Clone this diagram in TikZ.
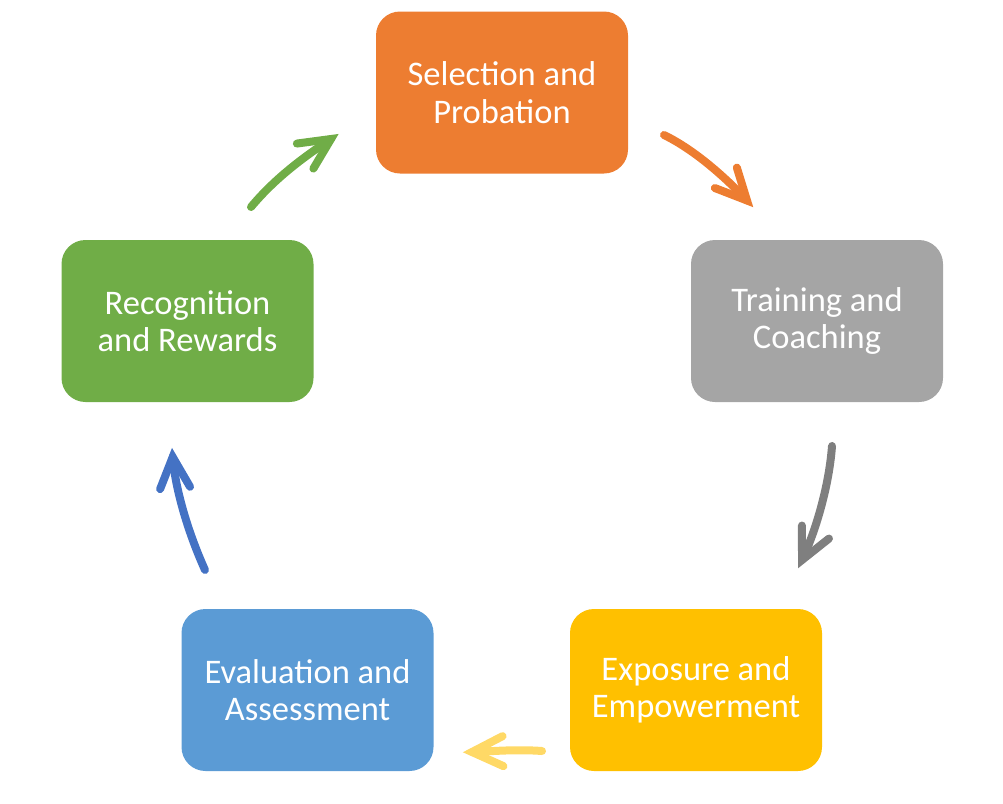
\documentclass[tikz,border=0pt]{standalone}
\usepackage{fontspec}
\setmainfont{Carlito}
\usetikzlibrary{decorations.markings}
\definecolor{cOrange}{HTML}{ED7D31}
\definecolor{cGray}{HTML}{A5A5A5}
\definecolor{cGold}{HTML}{FFC000}
\definecolor{cBlue}{HTML}{5B9BD5}
\definecolor{cGreen}{HTML}{70AD47}
\definecolor{aGray}{HTML}{7F7F7F}
\definecolor{aYellow}{HTML}{FFD966}
\definecolor{aBlue}{HTML}{4472C4}
\begin{document}
\begin{tikzpicture}[x=1pt,y=-1pt,
  stagebox/.style={rectangle, rounded corners=24pt, minimum width=252pt, minimum height=162pt,
    text=white, align=center, font=\fontsize{34.5}{37.5}\selectfont, inner sep=0pt},
  cyc/.style={draw=#1, line width=8pt, line cap=round,
    postaction={decorate, decoration={markings, mark=at position 0.9999 with
      {\draw[#1, line width=8pt, line cap=round, line join=miter, miter limit=12]
        (-31pt,15pt) -- (0pt,0pt) -- (-31pt,-15pt);}}}}]
\useasboundingbox (0,0) rectangle (1003,803);
\node[stagebox, fill=cOrange] (sel) at (502,92.5) {Selection and\\Probation};
\node[stagebox, fill=cGray] (tra) at (817,321) {Training and\\Coaching};
\node[stagebox, fill=cGold] (exp) at (696,690) {Exposure and\\Empowerment};
\node[stagebox, fill=cBlue] (eva) at (307.5,690) {Evaluation and\\Assessment};
\node[stagebox, fill=cGreen] (rec) at (187.5,321) {Recognition\\and Rewards};
\coordinate (o1) at (664,135); \coordinate (o2) at (747,200.5);
\coordinate (g1) at (832,446); \coordinate (g2) at (802,560);
\coordinate (y1) at (542,751); \coordinate (y2) at (472,752);
\coordinate (b1) at (205,570); \coordinate (b2) at (172.7,457);
\coordinate (r1) at (251,207); \coordinate (r2) at (331,139);
\path[cyc=cOrange] (o1) .. controls (695,150) and (726.6,178.6) .. (o2);
\path[cyc=aGray] (g1) .. controls (829,487) and (815,533) .. (g2);
\path[cyc=aYellow] (y1) .. controls (515,749) and (490,751.5) .. (y2);
\path[cyc=aBlue] (b1) .. controls (187,530) and (175,487) .. (b2);
\path[cyc=cGreen] (r1) .. controls (276,177) and (306,155.5) .. (r2);
\end{tikzpicture}
\end{document}
